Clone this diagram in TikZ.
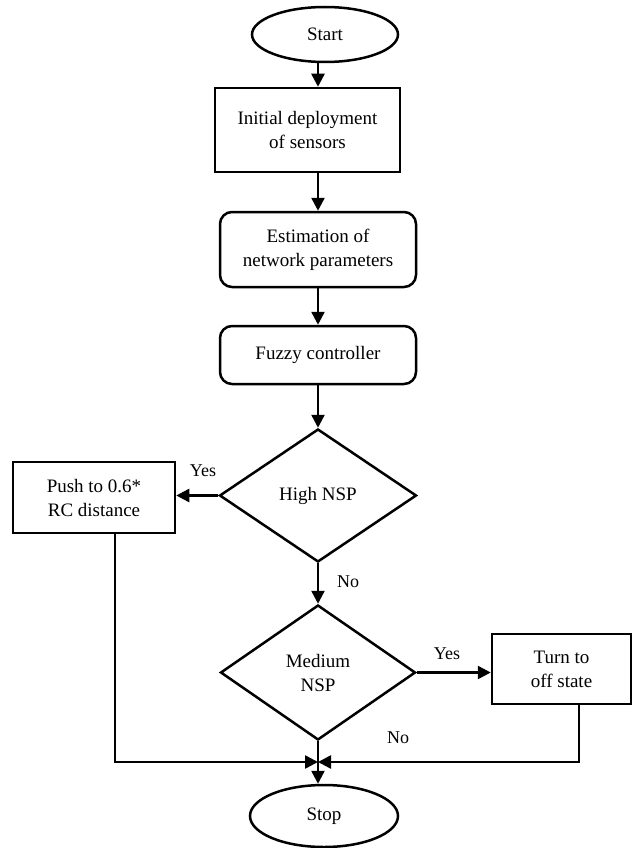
\documentclass[tikz,border=0pt]{standalone}
\usepackage{fontspec}
\setmainfont{Liberation Serif}
\usetikzlibrary{shapes.geometric,arrows.meta}
\tikzset{
  every node/.style={font=\fontsize{19}{24}\selectfont},
  proc/.style={draw, line width=2.5pt, rectangle, align=center, inner sep=0pt, anchor=center},
  rproc/.style={proc, rounded corners=12pt},
  term/.style={draw, line width=2.5pt, ellipse, inner sep=0pt, anchor=center},
  dec/.style={draw, line width=2.5pt, diamond, align=center, inner sep=0pt, anchor=center},
  lbl/.style={font=\fontsize{18}{22}\selectfont, anchor=center},
  arr/.style={line width=2.5pt, -{Triangle[length=13pt,width=13pt]}},
  ln/.style={line width=2.5pt}
}
\begin{document}
\begin{tikzpicture}[x=1pt,y=-1pt]
\useasboundingbox (0,0) rectangle (632,848);
\coordinate (ax) at (318,0);
\node[term, minimum width=146pt, minimum height=55pt] (start) at (325,34.5) {Start};
\node[proc, minimum width=185pt, minimum height=84pt] (init) at (307.5,130) {Initial deployment\\of sensors};
\node[rproc, minimum width=196pt, minimum height=75pt] (est) at (318,249.5) {Estimation of\\network parameters};
\node[rproc, minimum width=196pt, minimum height=58pt] (fuzzy) at (318,355) {Fuzzy controller};
\node[dec, minimum width=197pt, minimum height=133pt] (high) at (318,495.5) {High NSP};
\node[proc, minimum width=162pt, minimum height=71pt] (push) at (94,497.5) {Push to 0.6*\\RC distance};
\node[dec, minimum width=195pt, minimum height=135pt] (med) at (318,672.5) {Medium\\NSP};
\node[proc, minimum width=139pt, minimum height=70pt] (turn) at (561.5,669) {Turn to\\off state};
\node[term, minimum width=148pt, minimum height=62pt] (stop) at (324,816) {Stop};
\coordinate (jn) at (318,762);
\coordinate (pbx) at (115,0);
\coordinate (tbx) at (579,0);
\node[lbl] (y1) at (203,471) {Yes};
\node[lbl] (n1) at (348,582) {No};
\node[lbl] (y2) at (447,654) {Yes};
\node[lbl] (n2) at (398,738) {No};
\draw[arr] (start.south -| ax) -- (init.north -| ax);
\draw[arr] (init.south -| ax) -- (est.north -| ax);
\draw[arr] (est.south -| ax) -- (fuzzy.north -| ax);
\draw[arr] (fuzzy.south -| ax) -- (high.north);
\draw[arr] (high.west) -- (high.west -| push.east);
\draw[arr] (high.south) -- (med.north);
\draw[arr] (med.east) -- (med.east -| turn.west);
\draw[arr] (push.south -| pbx) |- (jn);
\draw[arr] (turn.south -| tbx) |- (jn);
\draw[arr] (med.south) -- (stop.north -| ax);
\end{tikzpicture}
\end{document}
